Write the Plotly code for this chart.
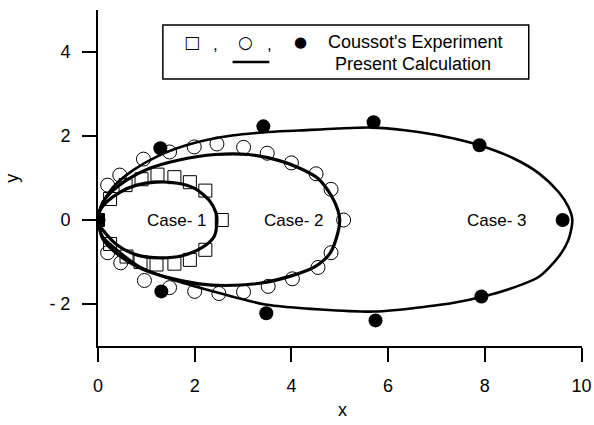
import plotly.graph_objects as go

# ---- data ----
# Case-1 experiment (open squares)
case1_x = [0, 0.25, 0.57, 0.9, 1.23, 1.58, 1.9, 2.22, 2.56, 2.22, 1.9, 1.58, 1.21, 0.88, 0.59, 0.25]
case1_y = [0, 0.5, 0.83, 0.97, 1.08, 1.02, 0.9, 0.7, 0, -0.71, -0.95, -1.04, -1.06, -1.0, -0.87, -0.57]
# Case-2 experiment (open circles)
case2_x = [0, 0.2, 0.45, 0.94, 1.48, 1.99, 2.46, 3.01, 3.5, 4.0, 4.51, 4.82, 5.08,
           4.82, 4.55, 4.02, 3.52, 3.01, 2.5, 2.0, 1.48, 0.96, 0.47, 0.2]
case2_y = [0, 0.83, 1.07, 1.45, 1.62, 1.74, 1.81, 1.73, 1.59, 1.36, 1.1, 0.73, 0,
           -0.78, -1.13, -1.4, -1.58, -1.71, -1.75, -1.7, -1.61, -1.44, -1.02, -0.78]
# Case-3 experiment (filled circles)
case3_x = [0, 1.29, 3.42, 5.7, 7.89, 9.61, 7.93, 5.74, 3.48, 1.31]
case3_y = [0, 1.71, 2.23, 2.33, 1.78, 0, -1.82, -2.39, -2.22, -1.7]

# Present calculation curves
calc1_x = [0, 0.03, 0.18, 0.45, 0.8, 1.2, 1.62, 1.99, 2.3, 2.44, 2.46, 2.4, 2.15, 1.74, 1.27, 0.8, 0.39, 0.1, 0.02, 0]
calc1_y = [0, 0.2, 0.43, 0.66, 0.83, 0.9, 0.88, 0.76, 0.47, 0.17, 0, -0.4, -0.66, -0.85, -0.9, -0.83, -0.59, -0.24, -0.1, 0]

calc2_x = [0, 0.03, 0.1, 0.25, 0.59, 1.07, 1.68, 2.43, 3.11, 3.73, 4.14, 4.55, 4.82, 4.96, 5.0,
           4.96, 4.8, 4.49, 4.0, 3.38, 2.64, 2.09, 1.41, 0.86, 0.39, 0.1, 0.03, 0]
calc2_y = [0, 0.2, 0.42, 0.64, 0.95, 1.23, 1.43, 1.56, 1.56, 1.42, 1.25, 0.99, 0.59, 0.24, 0,
           -0.31, -0.79, -1.11, -1.33, -1.5, -1.56, -1.52, -1.36, -1.14, -0.8, -0.45, -0.2, 0]

calc3_x = [0, 0.03, 0.1, 0.31, 0.72, 1.27, 1.95, 2.77, 3.46, 4.14, 4.96, 5.7, 6.66, 7.36, 7.89, 8.59,
           9.12, 9.53, 9.73, 9.81, 9.73, 9.53, 9.12, 8.59, 7.97, 7.36, 6.8, 5.72, 4.61, 3.46, 2.77,
           2.09, 1.41, 0.86, 0.39, 0.1, 0.03, 0]
calc3_y = [0, 0.2, 0.42, 0.78, 1.18, 1.54, 1.82, 2.01, 2.09, 2.13, 2.18, 2.2, 2.09, 1.94, 1.78, 1.47,
           1.11, 0.66, 0.31, 0, -0.47, -0.87, -1.35, -1.61, -1.82, -1.97, -2.06, -2.18, -2.13, -2.01, -1.82,
           -1.61, -1.37, -1.11, -0.71, -0.4, -0.2, 0]

origin_x = [0]
origin_y = [0]

case_labels = ["Case- 1", "Case- 2", "Case- 3"]
case_label_x = [1.64, 4.06, 8.25]
case_label_y = [0, 0, 0]

x_ticks = [0, 2, 4, 6, 8, 10]
y_ticks = [-2, 0, 2, 4]
y_ticktext = ["- 2", "0", "2", "4"]

FONT = "Liberation Sans, Arial, Helvetica, sans-serif"

fig = go.Figure()

for cx, cy, w in [(calc1_x, calc1_y, 3.2), (calc2_x, calc2_y, 3.2), (calc3_x, calc3_y, 2.6)]:
    fig.add_trace(go.Scatter(x=cx, y=cy, mode="lines",
                             line=dict(color="black", width=w, shape="spline", smoothing=0.8),
                             showlegend=False, hoverinfo="skip"))

fig.add_trace(go.Scatter(x=case1_x, y=case1_y, mode="markers",
                         marker=dict(symbol="square-open", size=13, color="black", line=dict(width=1)),
                         showlegend=False))
fig.add_trace(go.Scatter(x=case2_x, y=case2_y, mode="markers",
                         marker=dict(symbol="circle-open", size=14, color="black", line=dict(width=1)),
                         showlegend=False))
fig.add_trace(go.Scatter(x=case3_x, y=case3_y, mode="markers",
                         marker=dict(symbol="circle", size=14, color="black"),
                         showlegend=False))
fig.add_trace(go.Scatter(x=origin_x, y=origin_y, mode="markers",
                         marker=dict(symbol="square", size=12, color="black"),
                         showlegend=False))


def ann(x, y, text, size, family=FONT, xanchor="center", **kw):
    return dict(x=x, y=y, xref="paper", yref="paper", text=text, showarrow=False,
                xanchor=xanchor, yanchor="middle",
                font=dict(size=size, color="black", family=family), **kw)


annotations = []
for t, ax, ay in zip(case_labels, case_label_x, case_label_y):
    annotations.append(dict(x=ax, y=ay, xref="x", yref="y", text=t, showarrow=False,
                            xanchor="center", yanchor="middle",
                            font=dict(size=17, color="black", family=FONT)))

# axis titles
annotations.append(ann(0.505, -0.19, "x", 18))
annotations.append(ann(-0.178, 0.5, "y", 18, textangle=-90))

# legend box content
annotations += [
    ann(0.195, 0.905, "□", 17, family="DejaVu Sans"),
    ann(0.242, 0.897, ",", 17),
    ann(0.304, 0.905, "○", 17, family="DejaVu Sans"),
    ann(0.355, 0.897, ",", 17),
    ann(0.418, 0.905, "●", 15, family="DejaVu Sans"),
    ann(0.472, 0.905, "Coussot's Experiment", 18, xanchor="left"),
    ann(0.485, 0.839, "Present Calculation", 18, xanchor="left"),
]

shapes = [
    dict(type="rect", xref="paper", yref="paper", x0=0.134, x1=0.89, y0=0.795, y1=0.955,
         line=dict(color="black", width=1.5), fillcolor="white", layer="below"),
    dict(type="line", xref="paper", yref="paper", x0=0.278, x1=0.354, y0=0.845, y1=0.845,
         line=dict(color="black", width=2.5)),
]

axis_common = dict(showline=True, linecolor="black", linewidth=2, ticks="outside", ticklen=14,
                   tickwidth=2, tickcolor="black", showgrid=False, zeroline=False,
                   ticklabeloverflow="allow", automargin=False,
                   tickfont=dict(size=18, color="black", family=FONT))

fig.update_layout(
    width=594, height=425,
    margin=dict(l=98, r=12, t=10, b=79, autoexpand=False),
    paper_bgcolor="white", plot_bgcolor="white",
    xaxis=dict(range=[0, 10.01], tickvals=x_ticks, ticklabelstandoff=8, **axis_common),
    yaxis=dict(range=[-3, 5], tickvals=y_ticks, ticktext=y_ticktext, ticklabelstandoff=8, **axis_common),
    annotations=annotations,
    shapes=shapes,
    showlegend=False,
)

fig.write_html("out.html")
